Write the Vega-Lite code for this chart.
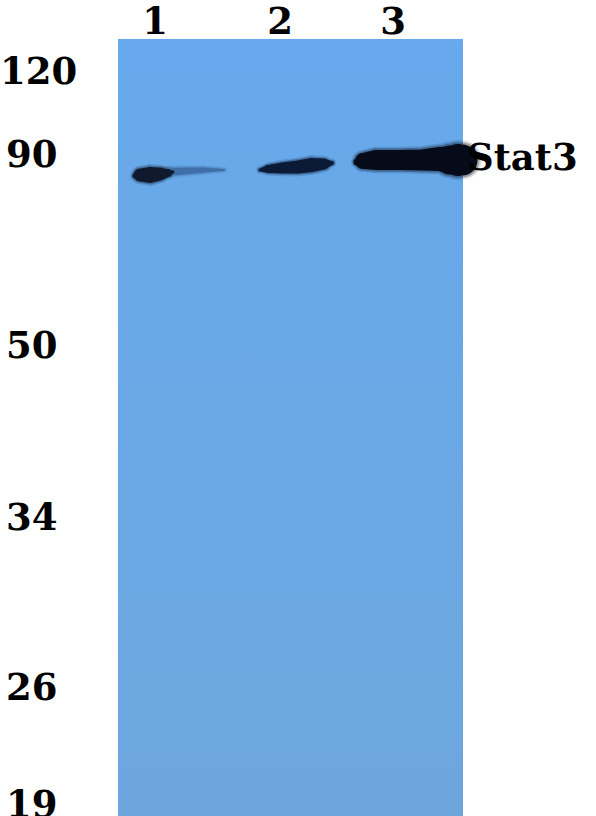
{
  "$schema": "https://vega.github.io/schema/vega-lite/v6.json",
  "description": "Western blot of Stat3 in three lanes with molecular weight markers (kDa).",
  "width": 596,
  "height": 816,
  "padding": 0,
  "autosize": {"type": "none"},
  "background": "white",
  "config": {"view": {"stroke": null}},
  "datasets": {
    "blot": [{"x": 118, "x2": 463, "y": 39, "y2": 816}],
    "lanes": [
      {"lane": "1", "x": 155, "y": 23},
      {"lane": "2", "x": 280, "y": 23},
      {"lane": "3", "x": 393, "y": 23}
    ],
    "markers": [
      {"kda": "120", "x": 0, "y": 73},
      {"kda": "90", "x": 6, "y": 156},
      {"kda": "50", "x": 6, "y": 347},
      {"kda": "34", "x": 6, "y": 519},
      {"kda": "26", "x": 6, "y": 689},
      {"kda": "19", "x": 6, "y": 806}
    ],
    "target": [{"name": "Stat3", "x": 467, "y": 159}],
    "bands": [
      {"band": "1 tail", "x": 165, "y": 172, "t": 8},
      {"band": "1 tail", "x": 185, "y": 171, "t": 7},
      {"band": "1 tail", "x": 205, "y": 170, "t": 5},
      {"band": "1 tail", "x": 224, "y": 170, "t": 2},
      {"band": "1", "x": 135, "y": 176, "t": 5},
      {"band": "1", "x": 140, "y": 175, "t": 13},
      {"band": "1", "x": 150, "y": 175, "t": 16},
      {"band": "1", "x": 160, "y": 174, "t": 13},
      {"band": "1", "x": 168, "y": 173, "t": 8},
      {"band": "1", "x": 173, "y": 172, "t": 3},
      {"band": "2", "x": 260, "y": 170, "t": 3},
      {"band": "2", "x": 268, "y": 169, "t": 8},
      {"band": "2", "x": 282, "y": 168, "t": 11},
      {"band": "2", "x": 298, "y": 167, "t": 13},
      {"band": "2", "x": 312, "y": 165, "t": 14},
      {"band": "2", "x": 324, "y": 164, "t": 11},
      {"band": "2", "x": 332, "y": 163, "t": 4},
      {"band": "3", "x": 357, "y": 162, "t": 7},
      {"band": "3", "x": 363, "y": 161, "t": 16},
      {"band": "3", "x": 376, "y": 160, "t": 20},
      {"band": "3", "x": 400, "y": 160, "t": 20},
      {"band": "3", "x": 422, "y": 160, "t": 21},
      {"band": "3", "x": 440, "y": 159, "t": 24},
      {"band": "3", "x": 450, "y": 160, "t": 29},
      {"band": "3", "x": 458, "y": 160, "t": 32},
      {"band": "3", "x": 462, "y": 160, "t": 31}
    ]
  },
  "encoding": {
    "x": {"field": "x", "type": "quantitative", "axis": null, "scale": {"domain": [0, 596], "nice": false, "zero": false}},
    "y": {"field": "y", "type": "quantitative", "axis": null, "scale": {"domain": [0, 816], "nice": false, "zero": false, "reverse": true}}
  },
  "layer": [
    {
      "data": {"name": "blot"},
      "mark": {
        "type": "rect",
        "color": {
          "gradient": "linear",
          "x1": 0, "y1": 0, "x2": 0, "y2": 1,
          "stops": [
            {"offset": 0, "color": "#67a9ec"},
            {"offset": 0.5, "color": "#6aa8e5"},
            {"offset": 1, "color": "#6da6dd"}
          ]
        }
      },
      "encoding": {
        "x2": {"field": "x2"},
        "y2": {"field": "y2"}
      }
    },
    {
      "data": {"name": "bands"},
      "mark": {"type": "trail", "opacity": 0.15},
      "encoding": {
        "detail": {"field": "band"},
        "size": {"field": "t", "type": "quantitative", "legend": null, "scale": {"domain": [0, 30], "range": [4, 38]}},
        "color": {"field": "band", "type": "nominal", "legend": null, "scale": {"domain": ["1 tail", "1", "2", "3"], "range": ["#3f6fa6", "#0f1a2e", "#0b1a36", "#050b18"]}}
      }
    },
    {
      "data": {"name": "bands"},
      "mark": {"type": "trail", "opacity": 0.3},
      "encoding": {
        "detail": {"field": "band"},
        "size": {"field": "t", "type": "quantitative", "legend": null, "scale": {"domain": [0, 30], "range": [2, 34]}},
        "color": {"field": "band", "type": "nominal", "legend": null, "scale": {"domain": ["1 tail", "1", "2", "3"], "range": ["#3f6fa6", "#0f1a2e", "#0b1a36", "#050b18"]}}
      }
    },
    {
      "data": {"name": "bands"},
      "mark": {"type": "trail"},
      "encoding": {
        "detail": {"field": "band"},
        "size": {"field": "t", "type": "quantitative", "legend": null, "scale": {"domain": [0, 30], "range": [0, 30]}},
        "color": {"field": "band", "type": "nominal", "legend": null, "scale": {"domain": ["1 tail", "1", "2", "3"], "range": ["#3f6fa6", "#0f1a2e", "#0b1a36", "#050b18"]}}
      }
    },
    {
      "data": {"name": "lanes"},
      "mark": {"type": "text", "font": "DejaVu Serif", "fontWeight": "bold", "fontSize": 37, "align": "center", "baseline": "middle", "color": "black"},
      "encoding": {"text": {"field": "lane"}}
    },
    {
      "data": {"name": "markers"},
      "mark": {"type": "text", "font": "DejaVu Serif", "fontWeight": "bold", "fontSize": 37, "align": "left", "baseline": "middle", "color": "black"},
      "encoding": {"text": {"field": "kda"}}
    },
    {
      "data": {"name": "target"},
      "mark": {"type": "text", "font": "DejaVu Serif", "fontWeight": "bold", "fontSize": 37, "align": "left", "baseline": "middle", "color": "black"},
      "encoding": {"text": {"field": "name"}}
    }
  ],
  "resolve": {"scale": {"size": "independent"}}
}
